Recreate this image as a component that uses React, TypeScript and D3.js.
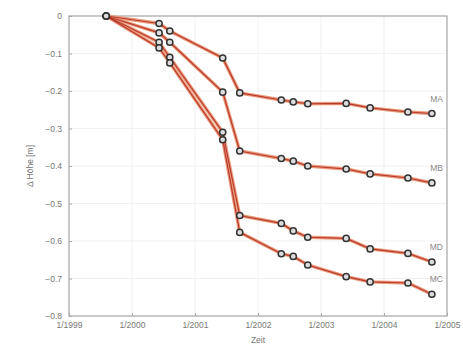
import React, { useEffect, useRef } from "react";
import * as d3 from "d3";

// measurement dates as decimal years
const dates = [
  1999.59, 2000.43, 2000.6, 2001.44, 2001.71, 2002.37, 2002.56, 2002.79,
  2003.4, 2003.78, 2004.38, 2004.76,
];

const seriesNames = ["MA", "MB", "MD", "MC"];

const ma = [0, -0.02, -0.04, -0.112, -0.205, -0.224, -0.229, -0.234, -0.233, -0.245, -0.256, -0.26];
const mb = [0, -0.045, -0.07, -0.203, -0.36, -0.38, -0.387, -0.4, -0.408, -0.421, -0.432, -0.445];
const md = [0, -0.07, -0.11, -0.31, -0.532, -0.553, -0.573, -0.59, -0.593, -0.621, -0.633, -0.656];
const mc = [0, -0.085, -0.125, -0.33, -0.577, -0.634, -0.641, -0.664, -0.695, -0.709, -0.712, -0.742];

const yTicks = [0, -0.1, -0.2, -0.3, -0.4, -0.5, -0.6, -0.7, -0.8];
const xTicks = [1999, 2000, 2001, 2002, 2003, 2004, 2005];

export default function App() {
  const svgRef = useRef<SVGSVGElement>(null);

  useEffect(() => {
    const svg = d3.select(svgRef.current);
    svg.selectAll("*").remove();

    const margin = { top: 16, right: 16, bottom: 31, left: 69 };
    const width = 463, height = 347;

    const x = d3.scaleLinear().domain([1999, 2005]).range([margin.left, width - margin.right]);
    const y = d3.scaleLinear().domain([-0.8, 0]).range([height - margin.bottom, margin.top]);

    const font = "Arial, 'Liberation Sans', sans-serif";

    // faint grid
    const grid = svg.append("g");
    xTicks.forEach((t) => {
      grid.append("line")
        .attr("x1", x(t)).attr("x2", x(t))
        .attr("y1", y(0)).attr("y2", y(-0.8))
        .attr("stroke", "#f1f1f1").attr("stroke-width", 1);
    });
    yTicks.forEach((t) => {
      grid.append("line")
        .attr("x1", x(1999)).attr("x2", x(2005))
        .attr("y1", y(t)).attr("y2", y(t))
        .attr("stroke", "#f1f1f1").attr("stroke-width", 1);
    });

    // box
    svg.append("rect")
      .attr("x", x(1999)).attr("y", y(0))
      .attr("width", x(2005) - x(1999)).attr("height", y(-0.8) - y(0))
      .attr("fill", "none").attr("stroke", "#aaa").attr("stroke-width", 1.2);

    const yAxis = svg.append("g")
      .attr("transform", `translate(${x(1999)},0)`)
      .call(d3.axisLeft(y).tickValues(yTicks).tickSize(-3).tickPadding(7)
        .tickFormat((d) => (d === 0 ? "0" : d3.format(".1f")(d as number))));
    const xAxis = svg.append("g")
      .attr("transform", `translate(0,${y(-0.8)})`)
      .call(d3.axisBottom(x).tickValues(xTicks).tickSize(-3).tickPadding(6)
        .tickFormat((d) => `1/${d}`));
    [yAxis, xAxis].forEach((a) => {
      a.select(".domain").remove();
      a.selectAll("line").attr("stroke", "#aaa");
      a.selectAll("text").attr("fill", "#777").attr("font-size", 8.5).attr("font-family", font);
    });

    svg.append("text")
      .attr("x", (x(1999) + x(2005)) / 2).attr("y", 343)
      .attr("text-anchor", "middle").attr("fill", "#777")
      .attr("font-size", 8.5).attr("font-family", font)
      .text("Zeit");
    svg.append("text")
      .attr("transform", `translate(33,${(y(0) + y(-0.8)) / 2}) rotate(-90)`)
      .attr("text-anchor", "middle").attr("fill", "#777")
      .attr("font-size", 8.5).attr("font-family", font)
      .text("Δ Höhe [m]");

    const all = [ma, mb, md, mc];
    const line = d3.line<number>().x((_, i) => x(dates[i])).y((d) => y(d));

    all.forEach((vals) => {
      svg.append("path").datum(vals)
        .attr("fill", "none").attr("stroke", "#eb9a7c").attr("stroke-width", 3.4)
        .attr("d", line);
    });
    all.forEach((vals) => {
      svg.append("path").datum(vals)
        .attr("fill", "none").attr("stroke", "#b02a1e").attr("stroke-width", 1.2)
        .attr("stroke-opacity", 0.85)
        .attr("d", line);
    });
    all.forEach((vals) => {
      svg.append("g").selectAll("circle").data(vals).join("circle")
        .attr("cx", (_, i) => x(dates[i])).attr("cy", (d) => y(d))
        .attr("r", 3.1)
        .attr("fill", "#ddd").attr("stroke", "#333").attr("stroke-width", 1.5);
    });

    all.forEach((vals, k) => {
      svg.append("text")
        .attr("x", x(dates[dates.length - 1]) + 11)
        .attr("y", y(vals[vals.length - 1]) - 12)
        .attr("text-anchor", "end").attr("fill", "#888")
        .attr("font-size", 8.5).attr("font-family", font)
        .text(seriesNames[k]);
    });
  }, []);

  return (
    <div style={{ position: "fixed", left: 0, top: 0, width: 463, height: 347, background: "#fff" }}>
      <svg ref={svgRef} width={463} height={347}></svg>
    </div>
  );
}
